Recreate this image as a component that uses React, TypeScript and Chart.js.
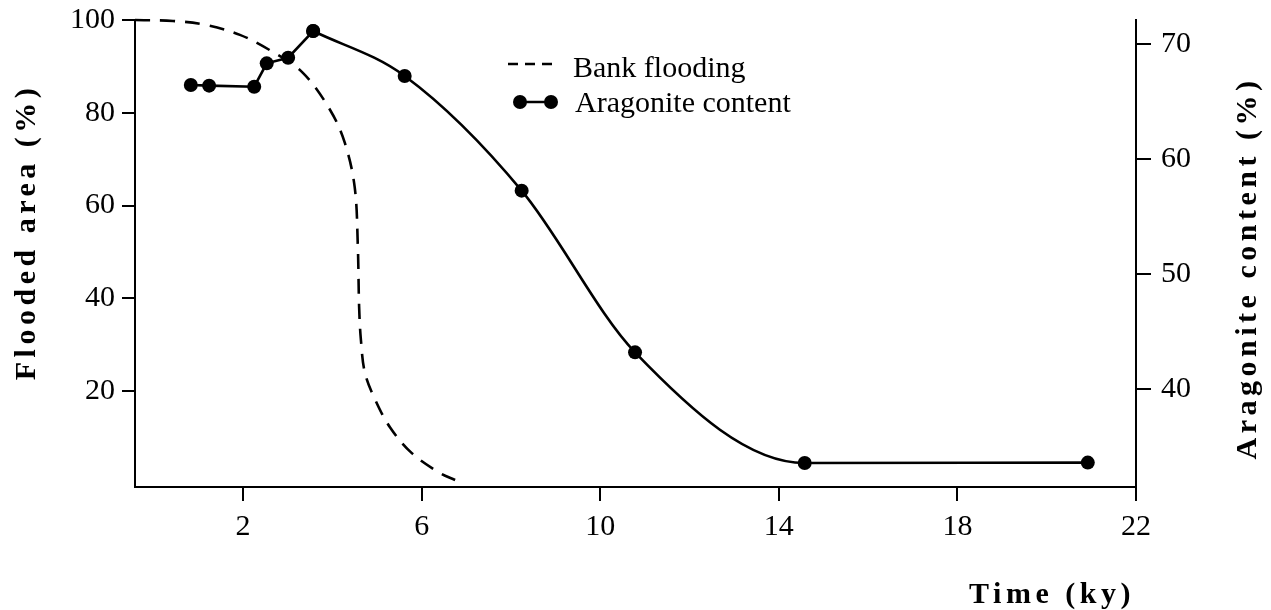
import React, { useEffect, useRef } from "react";
import { Chart, registerables } from "chart.js";

Chart.register(...registerables);

// Bank flooding (left axis, % flooded area)
const bankTime = [-0.42, 0.43, 1.19, 1.93, 2.6, 3.34, 3.95, 4.28, 4.5, 4.57, 4.6, 4.64, 4.73, 4.96, 5.29, 5.78, 6.41, 6.75];
const bankFlooded = [100, 99.8, 98.9, 96.8, 93.5, 88.6, 80.6, 73.5, 64.0, 51.5, 38.1, 31.0, 23.9, 18.1, 12.2, 6.6, 2.3, 0.8];

// Aragonite content (right axis, %)
const aragTime = [0.83, 1.24, 2.25, 2.53, 3.01, 3.57, 5.62, 8.24, 10.78, 14.58, 20.92];
const aragContent = [66.44, 66.38, 66.29, 68.32, 68.81, 71.13, 67.22, 57.25, 43.19, 33.57, 33.6];
const SMOOTH_FROM = 5; // straight segments up to the peak, smooth curve afterwards

const xTicks = [2, 6, 10, 14, 18, 22];
const leftTicks = [20, 40, 60, 80, 100];
const rightTicks = [40, 50, 60, 70];

const FONT = '"Liberation Serif", "Times New Roman", Times, serif';

export default function App() {
  const ref = useRef<HTMLCanvasElement>(null);

  useEffect(() => {
    document.body.style.margin = "0";
    const canvas = ref.current!;
    const toXY = (xs: number[], ys: number[]) => xs.map((x, i) => ({ x, y: ys[i] }));

    const annot = {
      id: "annot",
      afterDraw(chart: any) {
        const ctx: CanvasRenderingContext2D = chart.ctx;
        ctx.save();
        ctx.fillStyle = "#000";
        ctx.strokeStyle = "#000";

        // Legend
        ctx.lineWidth = 2.5;
        ctx.setLineDash([10, 7]);
        ctx.beginPath();
        ctx.moveTo(508, 64);
        ctx.lineTo(555, 64);
        ctx.stroke();
        ctx.setLineDash([]);
        ctx.beginPath();
        ctx.moveTo(520, 102);
        ctx.lineTo(551, 102);
        ctx.stroke();
        for (const cx of [520, 551]) {
          ctx.beginPath();
          ctx.arc(cx, 102, 7, 0, Math.PI * 2);
          ctx.fill();
        }
        ctx.font = `30px ${FONT}`;
        ctx.textAlign = "left";
        ctx.textBaseline = "alphabetic";
        ctx.fillText("Bank flooding", 573, 77);
        ctx.fillText("Aragonite content", 575, 112);

        // Axis titles
        ctx.font = `bold 30px ${FONT}`;
        (ctx as any).letterSpacing = "4.5px";
        ctx.textAlign = "center";

        ctx.save();
        ctx.translate(35, 232);
        ctx.rotate(-Math.PI / 2);
        ctx.fillText("Flooded area (%)", 0, 0);
        ctx.restore();

        ctx.save();
        ctx.translate(1256, 268);
        ctx.rotate(-Math.PI / 2);
        ctx.fillText("Aragonite content (%)", 0, 0);
        ctx.restore();

        ctx.fillText("Time (ky)", 1052, 603);
        ctx.restore();
      },
    };

    const tickFont = { family: FONT, size: 30 };
    const axisCommon = (tickLen: number) => ({
      grid: {
        drawOnChartArea: false,
        drawTicks: true,
        tickLength: tickLen,
        color: "#000",
        tickColor: "#000",
        lineWidth: 2,
        tickWidth: 2,
      },
      border: { display: true, color: "#000", width: 2 },
    });

    const aragStyle = {
      yAxisID: "y1",
      borderColor: "#000",
      backgroundColor: "#000",
      borderWidth: 2.6,
      pointRadius: 7,
      pointBackgroundColor: "#000",
      pointBorderColor: "#000",
      pointBorderWidth: 0,
      clip: false as any,
      fill: false,
    };

    const chart = new Chart(canvas, {
      type: "line",
      data: {
        datasets: [
          {
            label: "Bank flooding",
            data: toXY(bankTime, bankFlooded),
            yAxisID: "y",
            borderColor: "#000",
            borderWidth: 2.6,
            borderDash: [15, 10],
            pointRadius: 0,
            tension: 0.35,
            clip: false as any,
            fill: false,
          },
          {
            label: "Aragonite content",
            data: toXY(aragTime.slice(0, SMOOTH_FROM + 1), aragContent.slice(0, SMOOTH_FROM + 1)),
            tension: 0,
            ...aragStyle,
          },
          {
            label: "Aragonite content (smooth)",
            data: toXY(aragTime.slice(SMOOTH_FROM), aragContent.slice(SMOOTH_FROM)),
            cubicInterpolationMode: "monotone",
            ...aragStyle,
          },
        ] as any,
      },
      options: {
        responsive: false,
        animation: false,
        devicePixelRatio: 1,
        layout: { padding: { top: 20, left: 0, right: 0, bottom: 0 } },
        plugins: { legend: { display: false }, tooltip: { enabled: false } },
        scales: {
          x: {
            type: "linear",
            min: -0.42,
            max: 22,
            afterBuildTicks: (s: any) => {
              s.ticks = xTicks.map((v) => ({ value: v }));
            },
            afterFit: (s: any) => {
              s.height = 123;
              s.paddingLeft = 0;
              s.paddingRight = 0;
            },
            ...axisCommon(14),
            ticks: { color: "#000", font: tickFont, padding: 8, maxRotation: 0, autoSkip: false },
          },
          y: {
            type: "linear",
            position: "left",
            min: -0.7,
            max: 100,
            afterBuildTicks: (s: any) => {
              s.ticks = leftTicks.map((v) => ({ value: v }));
            },
            afterFit: (s: any) => {
              s.width = 135;
              s.paddingTop = 0;
              s.paddingBottom = 0;
            },
            ...axisCommon(13),
            ticks: { color: "#000", font: tickFont, padding: 7, autoSkip: false },
          },
          y1: {
            type: "linear",
            position: "right",
            min: 31.48,
            max: 72.09,
            afterBuildTicks: (s: any) => {
              s.ticks = rightTicks.map((v) => ({ value: v }));
            },
            afterFit: (s: any) => {
              s.width = 135;
              s.paddingTop = 0;
              s.paddingBottom = 0;
            },
            ...axisCommon(15),
            ticks: { color: "#000", font: tickFont, padding: 10, autoSkip: false },
          },
        },
      } as any,
      plugins: [annot],
    });

    return () => chart.destroy();
  }, []);

  return (
    <div style={{ position: "absolute", left: 0, top: 0, width: 1271, height: 610, background: "#fff" }}>
      <canvas ref={ref} width={1271} height={610} style={{ display: "block" }} />
    </div>
  );
}
